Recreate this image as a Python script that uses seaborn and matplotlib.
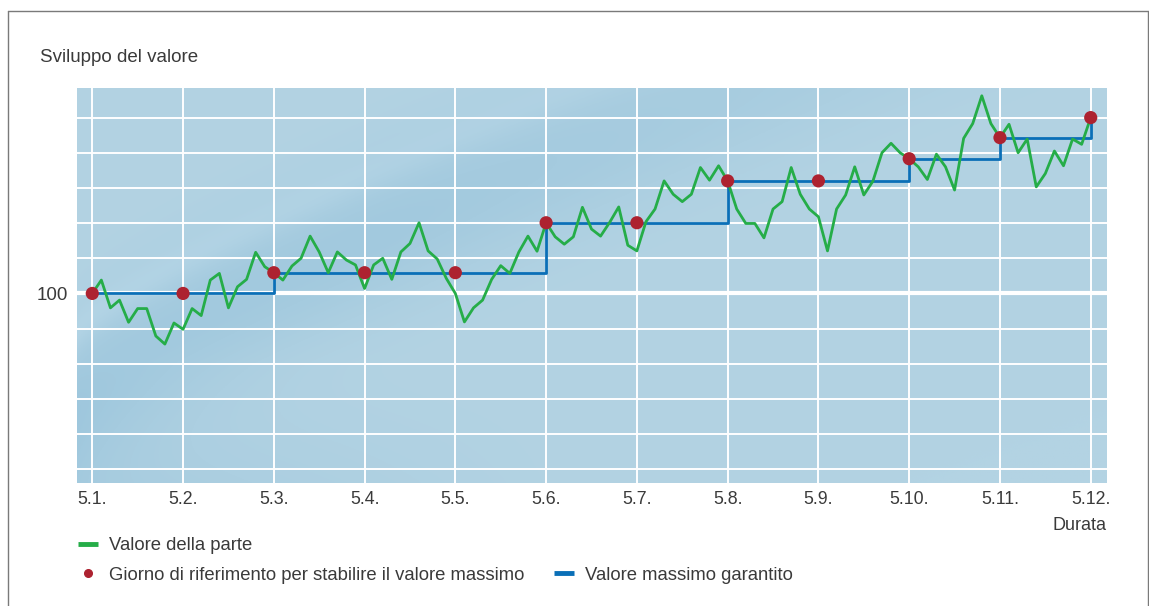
import numpy as np
import pandas as pd
import matplotlib.pyplot as plt
import seaborn as sns
from matplotlib.lines import Line2D

# month labels on the x axis (one reference day per month)
months = ['5.1.', '5.2.', '5.3.', '5.4.', '5.5.', '5.6.',
          '5.7.', '5.8.', '5.9.', '5.10.', '5.11.', '5.12.']

# share value, 10 readings per month
share_value = [100.0, 103.8, 95.9, 98.1, 91.8, 95.7, 95.7, 87.9, 85.6, 91.6,
               89.8, 95.7, 93.7, 103.8, 105.7, 95.9, 101.9, 104.0, 111.7, 107.6,
               105.9, 103.8, 107.8, 110.0, 116.3, 111.8, 105.9, 111.8, 109.5, 108.1,
               101.4, 108.1, 110.0, 104.0, 111.8, 114.2, 120.1, 112.1, 109.8, 104.3,
               100.0, 91.9, 95.9, 98.1, 104.0, 107.9, 105.7, 111.8, 116.3, 112.0,
               120.1, 116.1, 114.0, 116.1, 124.5, 118.3, 116.3, 120.2, 124.6, 113.7,
               112.1, 120.4, 124.0, 132.0, 128.2, 126.1, 128.2, 135.8, 132.2, 136.3,
               132.0, 124.0, 119.9, 119.9, 115.8, 124.0, 126.1, 135.8, 128.2, 124.0,
               121.8, 112.1, 124.0, 128.0, 136.0, 128.0, 131.9, 140.0, 142.7, 140.0,
               138.3, 136.0, 132.4, 139.6, 136.0, 129.4, 144.1, 148.3, 156.2, 148.3,
               144.3, 148.1, 140.0, 143.9, 130.3, 134.1, 140.5, 136.3, 143.9, 142.4,
               150.0]

# guaranteed maximum fixed on each reference day
reference_level = [100.0, 100.0, 105.9, 105.9, 105.9, 120.1,
                   120.1, 132.0, 132.0, 138.3, 144.3, 150.0]

readings_per_month = 10

GREEN = '#25ad48'
BLUE = '#0a6fb7'
RED = '#ad2230'
TEXT = '#3a3a3a'

sns.set_style("white")
plt.rcParams['font.family'] = ['Liberation Sans', 'DejaVu Sans']

W, H = 1149, 606
fig = plt.figure(figsize=(W / 100, H / 100), dpi=100)
ax = fig.add_axes([77.3 / W, 1 - 483 / H, (1106.7 - 77.3) / W, (483 - 87.7) / H])

# soft background swoosh
gu = np.linspace(0, 1, 500)
gv = np.linspace(0, 1, 250)
U, V = np.meshgrid(gu, gv)
center = 0.22 + 1.1 * U ** 0.8
d = V - center
dark = np.exp(-(d / 0.2) ** 2) * np.clip(1.3 - U, 0, 1) * 0.8
dark = dark + 0.5 * np.clip(0.3 - V, 0, 1) / 0.3 * np.clip(0.5 - U, 0, 1) / 0.5
light = 0.6 * np.exp(-((d - 0.16) / 0.05) ** 2) * np.clip(1.0 - U, 0, 1)
base = np.array([179, 211, 227]) / 255
darkc = np.array([158, 199, 221]) / 255
lightc = np.array([192, 220, 234]) / 255
img = base + dark[..., None] * (darkc - base) + light[..., None] * (lightc - base)
ax.imshow(np.clip(img, 0, 1), extent=[0, 1, 0, 1], transform=ax.transAxes,
          origin='lower', aspect='auto', zorder=0)

df = pd.DataFrame({'t': np.arange(len(share_value)) / readings_per_month,
                   'value': share_value})
ref = pd.DataFrame({'t': np.arange(len(reference_level)), 'level': reference_level})

ax.set_yticks(np.arange(50, 151, 10))
ax.set_yticklabels(['100' if v == 100 else '' for v in range(50, 151, 10)])
ax.set_xticks(range(len(months)))
ax.set_xticklabels(months)
ax.grid(True, color='white', lw=1.4, zorder=1)
ax.set_axisbelow(True)
ax.axhline(100, color='white', lw=3, zorder=1.5)

sns.lineplot(data=ref, x='t', y='level', drawstyle='steps-post', color=BLUE,
             lw=2, ax=ax, zorder=3)
sns.lineplot(data=df, x='t', y='value', color=GREEN, lw=2, ax=ax, zorder=4)
sns.scatterplot(data=ref, x='t', y='level', color=RED, s=90, edgecolor='none',
                ax=ax, zorder=5)

ax.set_xlim(-0.165, 11.176)
ax.set_ylim(46.1, 158.5)
ax.set_xlabel('')
ax.set_ylabel('')
for s in ax.spines.values():
    s.set_visible(False)
ax.tick_params(length=0, labelsize=12.8, labelcolor=TEXT, pad=6)
ax.tick_params(axis='y', labelsize=13.5, pad=7)

fig.text(40 / W, 1 - 57 / H, 'Sviluppo del valore', fontsize=13.5, color=TEXT,
         ha='left', va='center')
fig.text(1106 / W, 1 - 525 / H, 'Durata', fontsize=13, color=TEXT,
         ha='right', va='center')

handles = [Line2D([], [], color=GREEN, lw=3.5, solid_capstyle='butt'),
           Line2D([], [], marker='o', ls='none', color=RED, markersize=5.5),
           Line2D([], [], ls='none'),
           Line2D([], [], color=BLUE, lw=3.5, solid_capstyle='butt')]
labels = ['Valore della parte', 'Giorno di riferimento per stabilire il valore massimo',
          '', 'Valore massimo garantito']
fig.legend(handles, labels, ncol=2, loc='upper left', frameon=False,
           bbox_to_anchor=(78 / W, 1 - 537 / H), borderpad=0, borderaxespad=0,
           fontsize=13.3, labelcolor=TEXT, handlelength=1.08, handletextpad=0.59,
           labelspacing=0.68, columnspacing=1.6)

# outer frame
frame = dict(color='#7a7a7a', lw=1, transform=fig.transFigure)
fig.add_artist(Line2D([8 / W, 8 / W], [0, 1 - 11 / H], **frame))
fig.add_artist(Line2D([8 / W, 1148 / W], [1 - 11 / H, 1 - 11 / H], **frame))
fig.add_artist(Line2D([1148 / W, 1148 / W], [0, 1 - 11 / H], **frame))

fig.savefig('out.png', dpi=100)
